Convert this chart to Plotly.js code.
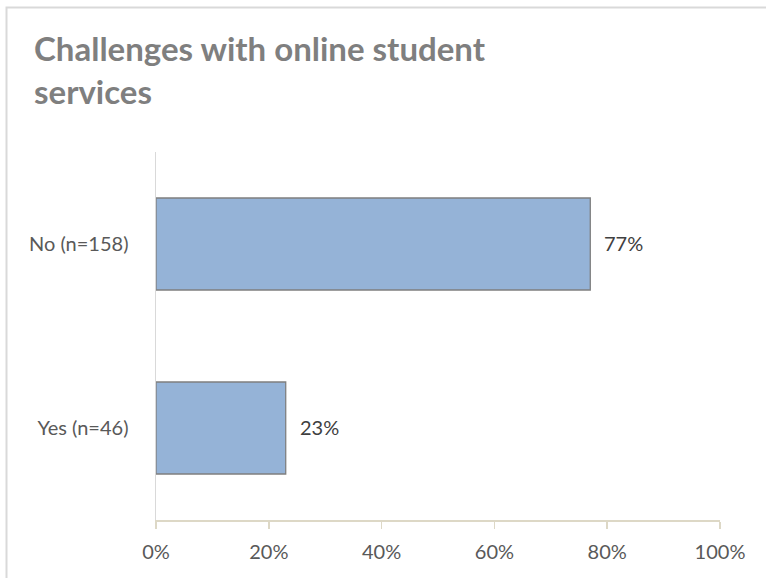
<!DOCTYPE html>
<html>
<head>
<meta charset="utf-8">
<script src="https://cdn.plot.ly/plotly-3.0.1.min.js"></script>
<style>
  html, body { margin: 0; padding: 0; background: #fff; }
  #plot { width: 766px; height: 578px; }
</style>
</head>
<body>
<div id="plot"></div>
<script>
// values
const categories = ['Yes (n=46)', 'No (n=158)'];   // bottom to top
const shares = [23, 77];                            // percent
const tickValues = [0, 20, 40, 60, 80, 100];
const tickLabels = ['0%', '20%', '40%', '60%', '80%', '100%'];

const font = 'Lato, "Open Sans", sans-serif';

const trace = {
  type: 'bar',
  orientation: 'h',
  x: shares,
  y: categories,
  marker: {
    color: '#95B3D7',
    line: { color: '#7F7F7F', width: 1.3 },
  },
  hoverinfo: 'skip',
};

// data labels, placed just past the end of each bar
const annotations = shares.map((v, i) => ({
  x: v,
  y: categories[i],
  xref: 'x',
  yref: 'y',
  text: v + '%',
  showarrow: false,
  xanchor: 'left',
  xshift: 12,
  yshift: 1,
  font: { family: font, size: 20, color: '#404040' },
}));

const layout = {
  width: 766,
  height: 578,
  margin: { l: 156, r: 46, t: 152, b: 58 },
  paper_bgcolor: '#fff',
  plot_bgcolor: '#fff',
  showlegend: false,
  bargap: 0.5,
  title: {
    text: 'Challenges with online student<br>services',
    font: { family: font, size: 33, color: '#7F7F7F', weight: 'bold' },
    xref: 'container',
    yref: 'container',
    x: 34 / 766,
    xanchor: 'left',
    y: 1 - 61 / 578,
    yanchor: 'top',
  },
  xaxis: {
    range: [0, 100],
    tickvals: tickValues,
    ticktext: tickLabels,
    showgrid: false,
    zeroline: false,
    showline: true,
    linecolor: '#DDD8C6',
    linewidth: 1.5,
    ticks: 'outside',
    ticklen: 7,
    tickwidth: 1.5,
    tickcolor: '#DDD8C6',
    ticklabelstandoff: 6,
    tickfont: { family: font, size: 20, color: '#595959' },
    fixedrange: true,
  },
  yaxis: {
    type: 'category',
    categoryorder: 'array',
    categoryarray: categories,
    showgrid: false,
    zeroline: false,
    showline: true,
    linecolor: '#D9D9D9',
    linewidth: 1.5,
    ticks: '',
    ticklabelstandoff: 22,
    tickfont: { family: font, size: 20, color: '#595959' },
    fixedrange: true,
  },
  annotations,
  shapes: [{
    // chart frame (only top and left edges fall inside the picture)
    type: 'rect',
    xref: 'paper',
    yref: 'paper',
    x0: (6.5 - 156) / 564,
    x1: 1.3,
    y0: -0.5,
    y1: (520 - 7.5) / 368,
    line: { color: '#D9D9D9', width: 2 },
    layer: 'above',
  }],
};

Plotly.newPlot('plot', [trace], layout, { displayModeBar: false, staticPlot: true });
</script>
</body>
</html>
